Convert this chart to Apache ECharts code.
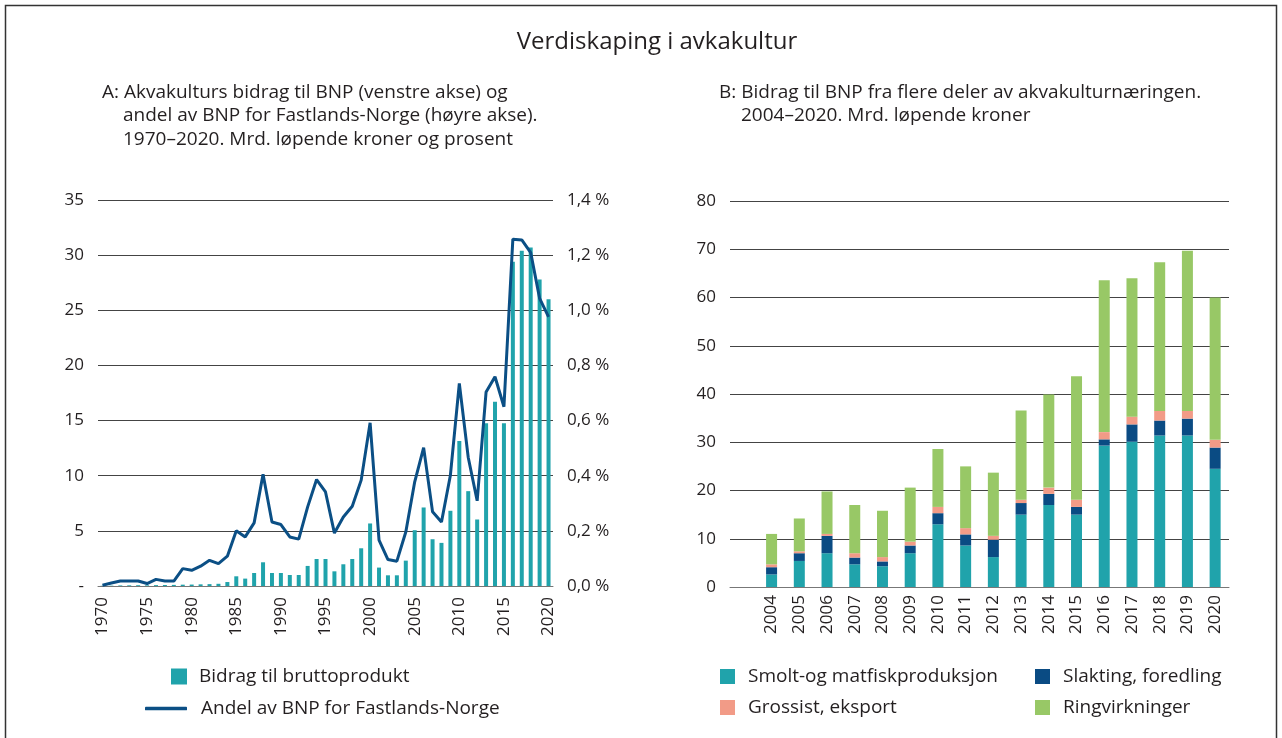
<!DOCTYPE html>
<html>
<head>
<meta charset="utf-8">
<title>Verdiskaping i avkakultur</title>
<script src="https://cdn.jsdelivr.net/npm/echarts@6/dist/echarts.min.js"></script>
<style>
  html, body { margin: 0; padding: 0; background: #fff; }
  #chart { width: 1282px; height: 738px; }
</style>
</head>
<body>
<div id="chart"></div>
<script>
const FONT = "Open Sans";
const TXT = "#231f20";

// A: bidrag til BNP (mrd. kr) og andel av BNP Fastlands-Norge (%)
const aarA = [];
for (let y = 1970; y <= 2020; y++) aarA.push(String(y));
const bidrag = [
  0.02, 0.03, 0.05, 0.06, 0.07, 0.06, 0.08, 0.09, 0.1, 0.12,
  0.13, 0.15, 0.17, 0.2, 0.36, 0.88, 0.67, 1.18, 2.15, 1.18,
  1.18, 1.0, 1.0, 1.82, 2.45, 2.45, 1.33, 1.97, 2.45, 3.42,
  5.67, 1.67, 0.97, 0.97, 2.3, 5.06, 7.12, 4.24, 3.91, 6.82,
  13.15, 8.6, 6.03, 14.76, 16.7, 14.76, 29.4, 30.4, 30.7, 27.8,
  26.0
];
const andel = [
  0.003, 0.011, 0.018, 0.018, 0.018, 0.009, 0.024, 0.018, 0.018, 0.063,
  0.057, 0.072, 0.093, 0.081, 0.108, 0.2, 0.178, 0.229, 0.405, 0.232,
  0.223, 0.178, 0.17, 0.287, 0.386, 0.341, 0.192, 0.25, 0.289, 0.384,
  0.592, 0.166, 0.096, 0.09, 0.196, 0.378, 0.502, 0.269, 0.232, 0.402,
  0.735, 0.466, 0.309, 0.704, 0.759, 0.65, 1.258, 1.255, 1.209, 1.043,
  0.976
];

// B: bidrag fra deler av naeringen, 2004-2020 (forste kategori er tom)
const aarB = ["", "2004", "2005", "2006", "2007", "2008", "2009", "2010", "2011",
  "2012", "2013", "2014", "2015", "2016", "2017", "2018", "2019", "2020"];
const deler = {
  "Smolt-og matfiskproduksjon": ["-", 2.6, 5.4, 7.0, 4.7, 4.3, 7.0, 13.0, 8.6, 6.2, 15.0, 17.0, 15.0, 29.3, 30.1, 31.4, 31.4, 24.5],
  "Slakting, foredling": ["-", 1.5, 1.6, 3.6, 1.4, 1.0, 1.6, 2.3, 2.3, 3.6, 2.4, 2.3, 1.6, 1.3, 3.6, 3.1, 3.5, 4.4],
  "Grossist, eksport": ["-", 0.6, 0.4, 0.4, 0.9, 0.9, 0.8, 1.3, 1.3, 0.8, 0.7, 1.3, 1.5, 1.5, 1.6, 2.0, 1.6, 1.6],
  "Ringvirkninger": ["-", 6.3, 6.8, 8.8, 10.0, 9.6, 11.2, 12.0, 12.8, 13.1, 18.5, 19.3, 25.6, 31.5, 28.7, 30.8, 33.2, 29.5]
};
const farger = {
  "Smolt-og matfiskproduksjon": "#20A3AB",
  "Slakting, foredling": "#0A4B83",
  "Grossist, eksport": "#F29B87",
  "Ringvirkninger": "#98C866"
};

const myChart = echarts.init(document.getElementById("chart"));

function tekst(str, x, y, size, align) {
  return {
    type: "text",
    x: x,
    y: y,
    style: {
      text: str,
      fill: TXT,
      fontFamily: FONT,
      fontSize: size,
      align: align || "left",
      verticalAlign: "middle"
    }
  };
}

function legendItem(name, left, top, opts) {
  return Object.assign({
    data: [name],
    left: left,
    top: top,
    padding: 0,
    icon: "rect",
    itemWidth: 15,
    itemHeight: 15,
    selectedMode: false,
    textStyle: { fontFamily: FONT, fontSize: 19, color: TXT, padding: [0, 0, 0, 8] }
  }, opts || {});
}

const axisLabel = { fontFamily: FONT, fontSize: 17, color: TXT };
const splitLine = { show: true, lineStyle: { color: "#444", width: 1 } };

const option = {
  backgroundColor: "#fff",
  animation: false,
  graphic: [
    {
      type: "rect",
      shape: { x: 5.5, y: 5.5, width: 1271, height: 760 },
      style: { fill: "none", stroke: "#333", lineWidth: 1.5 }
    },
    tekst("Verdiskaping i avkakultur", 657, 42, 24, "center"),
    tekst("A: Akvakulturs bidrag til BNP (venstre akse) og", 102, 93, 19),
    tekst("andel av BNP for Fastlands-Norge (høyre akse).", 123, 116, 19),
    tekst("1970–2020. Mrd. løpende kroner og prosent", 123, 140, 19),
    tekst("B: Bidrag til BNP fra flere deler av akvakulturnæringen.", 719, 93, 19),
    tekst("2004–2020. Mrd. løpende kroner", 741, 116, 19)
  ],
  legend: [
    legendItem("Bidrag til bruttoprodukt", 171, 667, { itemWidth: 16, itemHeight: 16, textStyle: { fontFamily: FONT, fontSize: 19, color: TXT, padding: [0, 0, 0, 7] } }),
    legendItem("Andel av BNP for Fastlands-Norge", 145, 699, { icon: "roundRect", itemWidth: 42, itemHeight: 3.5, textStyle: { fontFamily: FONT, fontSize: 19, color: TXT, padding: [0, 0, 0, 9] } }),
    legendItem("Smolt-og matfiskproduksjon", 720, 667),
    legendItem("Slakting, foredling", 1035, 667),
    legendItem("Grossist, eksport", 720, 698),
    legendItem("Ringvirkninger", 1035, 698)
  ],
  grid: [
    { left: 98, right: 729, top: 200, bottom: 152 },
    { left: 730, right: 53, top: 201, bottom: 151 }
  ],
  xAxis: [
    {
      gridIndex: 0,
      type: "category",
      data: aarA,
      boundaryGap: true,
      axisLine: { lineStyle: { color: "#777" } },
      axisTick: { show: false },
      axisLabel: Object.assign({ rotate: 90, interval: 4, margin: 11 }, axisLabel)
    },
    {
      gridIndex: 1,
      type: "category",
      data: aarB,
      boundaryGap: true,
      axisLine: { lineStyle: { color: "#777" } },
      axisTick: { show: false },
      axisLabel: Object.assign({ rotate: 90, interval: 0, margin: 8 }, axisLabel)
    }
  ],
  yAxis: [
    {
      gridIndex: 0,
      type: "value",
      min: 0,
      max: 35,
      interval: 5,
      axisLine: { show: false },
      axisTick: { show: false },
      splitLine: splitLine,
      axisLabel: Object.assign({
        margin: 14,
        formatter: function (v) { return v === 0 ? "-" : v; }
      }, axisLabel)
    },
    {
      gridIndex: 0,
      type: "value",
      position: "right",
      min: 0,
      max: 1.4,
      interval: 0.2,
      axisLine: { show: false },
      axisTick: { show: false },
      splitLine: { show: false },
      axisLabel: Object.assign({
        margin: 14,
        formatter: function (v) { return v.toFixed(1).replace(".", ",") + " %"; }
      }, axisLabel)
    },
    {
      gridIndex: 1,
      type: "value",
      min: 0,
      max: 80,
      interval: 10,
      axisLine: { show: false },
      axisTick: { show: false },
      splitLine: splitLine,
      axisLabel: Object.assign({ margin: 14 }, axisLabel)
    }
  ],
  series: [
    {
      name: "Bidrag til bruttoprodukt",
      type: "bar",
      xAxisIndex: 0,
      yAxisIndex: 0,
      barWidth: 4,
      itemStyle: { color: "#20A3AB" },
      data: bidrag
    },
    {
      name: "Andel av BNP for Fastlands-Norge",
      type: "line",
      xAxisIndex: 0,
      yAxisIndex: 1,
      symbol: "none",
      z: 5,
      lineStyle: { color: "#0B4F85", width: 3 },
      itemStyle: { color: "#0B4F85" },
      data: andel
    }
  ].concat(Object.keys(deler).map(function (navn) {
    return {
      name: navn,
      type: "bar",
      stack: "b",
      xAxisIndex: 1,
      yAxisIndex: 2,
      barWidth: 11,
      itemStyle: { color: farger[navn] },
      data: deler[navn]
    };
  }))
};

myChart.setOption(option);
</script>
</body>
</html>
